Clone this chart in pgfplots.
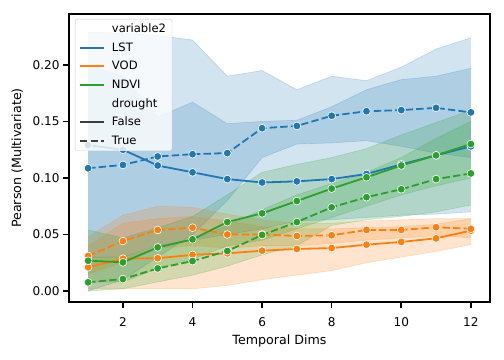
\documentclass[border=0pt]{standalone}
\usepackage{fontspec}
\setmainfont{DejaVu Sans}
\usepackage{pgfplots}
\pgfplotsset{compat=1.18}
\usepackage{pgfplotstable}
\usepgfplotslibrary{fillbetween}
\definecolor{c0}{HTML}{1F77B4}
\definecolor{c1}{HTML}{FF7F0E}
\definecolor{c2}{HTML}{2CA02C}
\definecolor{lg}{HTML}{3D3D3D}

\pgfplotstableread{
x m lo hi
1 0.129 0.030 0.200
2 0.125 0.030 0.190
3 0.111 0.040 0.154
4 0.105 0.045 0.167
5 0.099 0.050 0.148
6 0.096 0.055 0.150
7 0.097 0.062 0.151
8 0.099 0.063 0.163
9 0.1035 0.065 0.178
10 0.112 0.067 0.187
11 0.120 0.068 0.190
12 0.128 0.070 0.197
}\lstF
\pgfplotstableread{
x m lo hi
1 0.1086 0.000 0.229
2 0.1115 0.010 0.228
3 0.119 0.030 0.226
4 0.121 0.050 0.222
5 0.122 0.080 0.190
6 0.144 0.118 0.195
7 0.146 0.130 0.178
8 0.155 0.131 0.190
9 0.159 0.133 0.186
10 0.160 0.128 0.198
11 0.162 0.122 0.214
12 0.158 0.118 0.224
}\lstT
\pgfplotstableread{
x m lo hi
1 0.021 0.002 0.040
2 0.0286 0.002 0.060
3 0.029 0.002 0.064
4 0.032 0.002 0.066
5 0.0333 0.005 0.062
6 0.0357 0.010 0.057
7 0.0372 0.014 0.055
8 0.038 0.018 0.055
9 0.041 0.025 0.056
10 0.0434 0.030 0.057
11 0.0466 0.035 0.059
12 0.0534 0.041 0.064
}\vodF
\pgfplotstableread{
x m lo hi
1 0.031 0.015 0.048
2 0.0442 0.025 0.067
3 0.054 0.038 0.075
4 0.056 0.040 0.074
5 0.050 0.038 0.068
6 0.050 0.040 0.063
7 0.0487 0.040 0.060
8 0.0493 0.042 0.060
9 0.054 0.045 0.062
10 0.054 0.047 0.063
11 0.0564 0.049 0.064
12 0.055 0.047 0.064
}\vodT
\pgfplotstableread{
x m lo hi
1 0.0268 0.008 0.054
2 0.0254 0.008 0.047
3 0.0386 0.020 0.056
4 0.0457 0.028 0.066
5 0.061 0.040 0.085
6 0.0687 0.045 0.105
7 0.0796 0.055 0.112
8 0.0906 0.065 0.118
9 0.1006 0.075 0.126
10 0.111 0.085 0.138
11 0.120 0.093 0.149
12 0.130 0.100 0.160
}\ndviF
\pgfplotstableread{
x m lo hi
1 0.0077 0.000 0.030
2 0.0106 0.002 0.030
3 0.020 0.008 0.038
4 0.0265 0.014 0.045
5 0.0354 0.022 0.058
6 0.0496 0.032 0.072
7 0.061 0.040 0.085
8 0.074 0.058 0.095
9 0.083 0.063 0.105
10 0.090 0.066 0.118
11 0.099 0.070 0.135
12 0.104 0.076 0.150
}\ndviT

\newcommand{\band}[2]{%
  \addplot[draw=#2, draw opacity=0.2, line width=0.7bp, name path=hi, forget plot] table[x=x,y=hi]{#1};
  \addplot[draw=#2, draw opacity=0.2, line width=0.7bp, name path=lo, forget plot] table[x=x,y=lo]{#1};
  \addplot[fill=#2, fill opacity=0.2, draw=none, forget plot] fill between[of=hi and lo];
}
\newcommand{\meanline}[3]{%
  \addplot[#2, line width=1.8bp, #3, mark=*, mark size=3.9bp,
    mark options={solid, fill=#2, draw=white, line width=0.6bp}, forget plot]
    table[x=x,y=m]{#1};
}
\tikzset{dsh/.style={dash pattern=on 7.4bp off 3.2bp}}

\begin{document}
\begin{tikzpicture}
\begin{axis}[
  scale only axis, width=421bp, height=288bp,
  at={(69bp,58bp)}, anchor=south west,
  xmin=0.45, xmax=12.55, ymin=-0.0097, ymax=0.245,
  xtick={2,4,6,8,10,12},
  ytick={0,0.05,0.1,0.15,0.2},
  yticklabel style={/pgf/number format/.cd, fixed, fixed zerofill, precision=2},
  xticklabel style={yshift=-6bp},
  /pgf/number format/assume math mode=true,
  ticklabel style={font=\fontsize{12.1}{14}\selectfont},
  label style={font=\fontsize{12.7}{15}\selectfont},
  xlabel={Temporal Dims}, ylabel={Pearson (Multivariate)},
  xlabel style={yshift=-1bp},
  ylabel style={yshift=3bp},
  axis line style={line width=1.6bp},
  tick style={line width=1.6bp, black},
  major tick length=6bp, tick align=outside, tick pos=left,
  legend style={at={(0.014,0.983)}, anchor=north west, draw=black!18,
    rounded corners=2.5bp, fill=white, fill opacity=0.8, text opacity=1,
    font=\fontsize{11.6}{13}\selectfont, cells={anchor=west},
    inner xsep=4bp, inner ysep=3bp, row sep=4.5bp},
  legend image code/.code={\draw[#1, line width=1.9bp] (-2bp,0bp) -- (22bp,0bp);},
]
\addlegendimage{empty legend}\addlegendentry{\hspace*{5bp}variable2}
\addlegendimage{c0}\addlegendentry{\hspace*{5bp}LST}
\addlegendimage{c1}\addlegendentry{\hspace*{5bp}VOD}
\addlegendimage{c2}\addlegendentry{\hspace*{5bp}NDVI}
\addlegendimage{empty legend}\addlegendentry{\hspace*{5bp}drought}
\addlegendimage{lg, solid}\addlegendentry{\hspace*{5bp}False}
\addlegendimage{lg, dsh}\addlegendentry{\hspace*{5bp}True}

\band{\lstF}{c0}
\band{\lstT}{c0}
\band{\vodF}{c1}
\band{\vodT}{c1}
\band{\ndviF}{c2}
\band{\ndviT}{c2}

\meanline{\lstF}{c0}{solid}
\meanline{\lstT}{c0}{dsh}
\meanline{\vodF}{c1}{solid}
\meanline{\vodT}{c1}{dsh}
\meanline{\ndviF}{c2}{solid}
\meanline{\ndviT}{c2}{dsh}
\end{axis}
\path[use as bounding box] (0,0) rectangle (504bp,360bp);
\end{tikzpicture}
\end{document}
